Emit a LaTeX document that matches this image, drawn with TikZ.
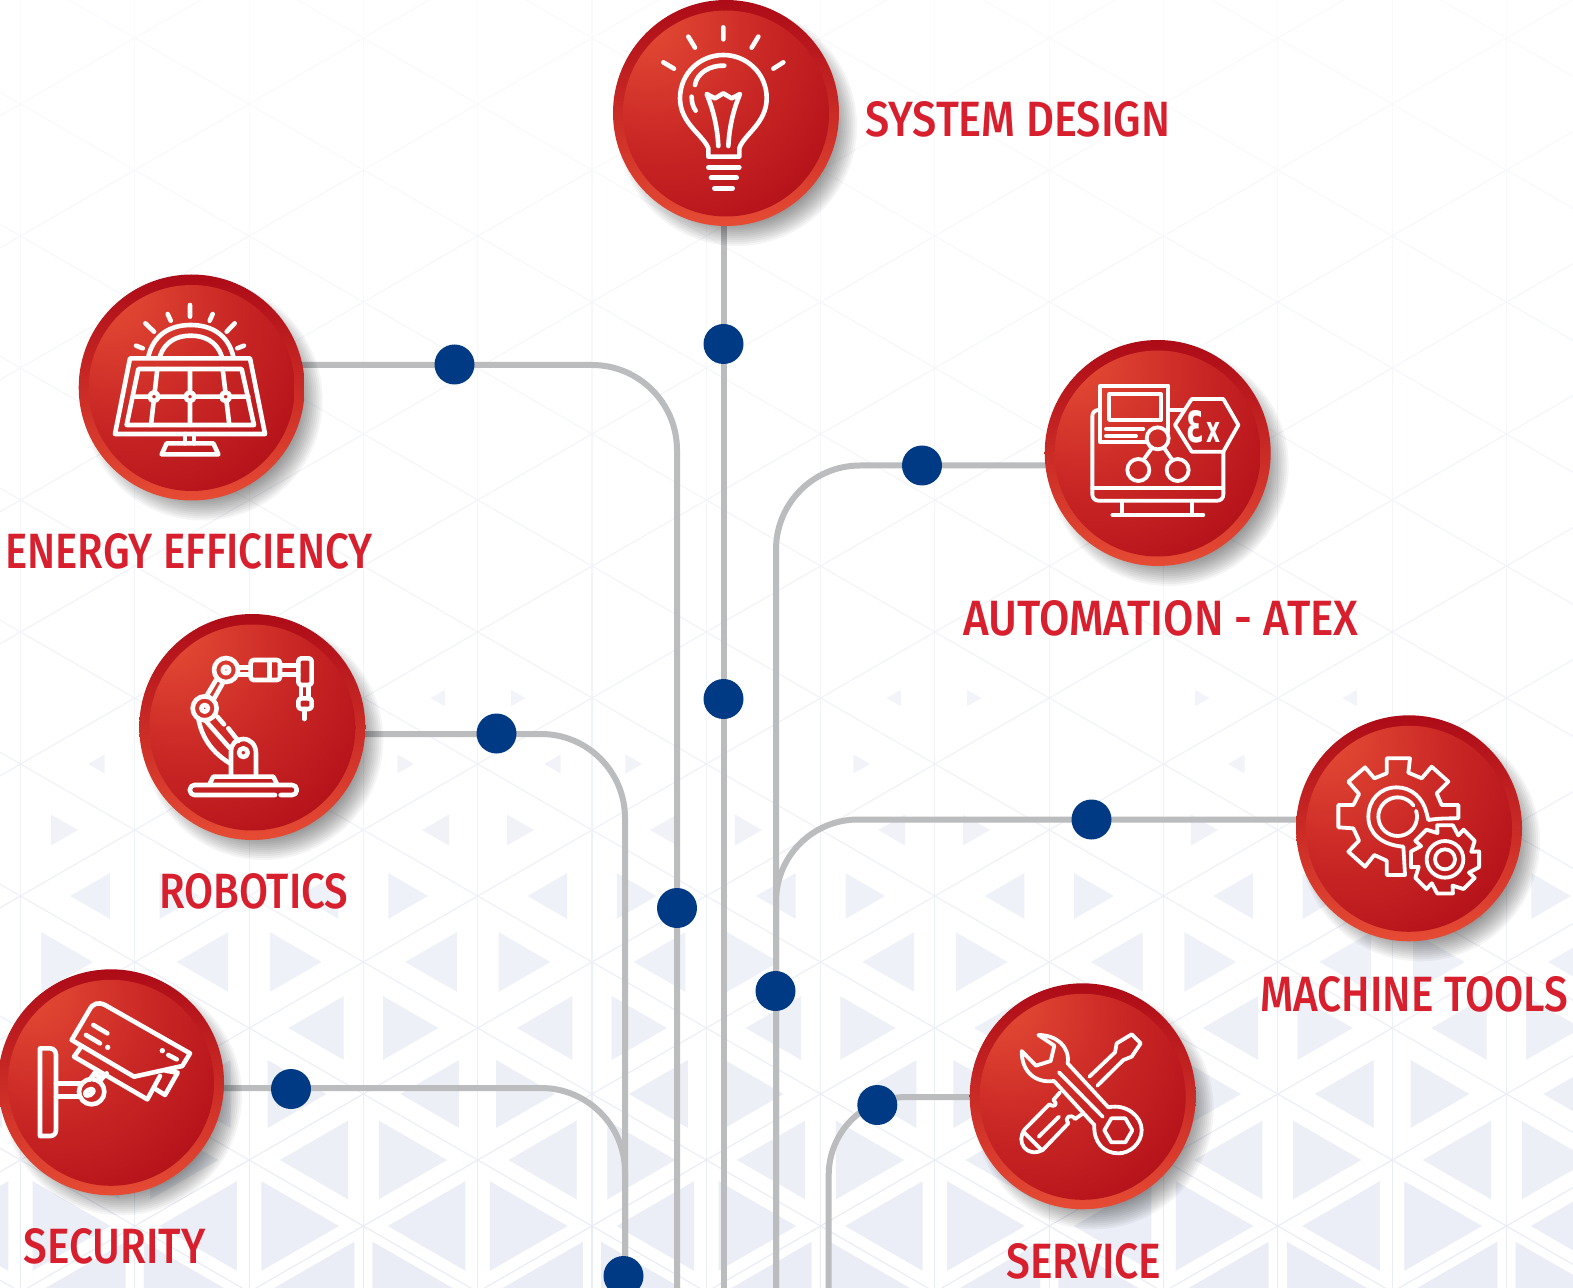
\documentclass[tikz,border=0pt]{standalone}
\usepackage{fontspec}
\setmainfont{Fira Sans}
\newfontfamily\labfont{Fira Sans Medium}
\newfontfamily\exfont{DejaVu Sans}
\definecolor{latcol}{HTML}{E9ECF5}
\definecolor{triacol}{HTML}{EAEDF5}
\definecolor{ringtop}{HTML}{AD0B17}
\definecolor{ringbot}{HTML}{E64B34}
\definecolor{faceA}{HTML}{E74F36}
\definecolor{faceB}{HTML}{CB2926}
\definecolor{faceC}{HTML}{AB0915}
\definecolor{linegray}{HTML}{BBBCBE}
\definecolor{dotblue}{HTML}{003A84}
\definecolor{labred}{HTML}{D71F2E}
\pgfdeclareradialshading{facesh}{\pgfpoint{-22bp}{25bp}}{color(0bp)=(faceA);color(25bp)=(faceB);color(54bp)=(faceC);color(110bp)=(faceC)}
\tikzset{
  conn/.style={draw=linegray,line width=3pt},
  dotnode/.style={circle,fill=dotblue,minimum size=20pt,inner sep=0pt},
  ringnode/.style={circle,minimum size=113pt,inner sep=0pt,top color=ringtop,bottom color=ringbot},
  facenode/.style={circle,minimum size=103pt,inner sep=0pt,shading=facesh},
  icon/.style={draw=white,line width=2.3pt,line cap=round,line join=round},
  thin icon/.style={draw=white,line width=1.9pt,line cap=round,line join=round},
  zoomed/.style={x=0.166667pt,y=-0.166667pt},
  labelnode/.style={inner sep=0pt,text=labred,font=\labfont}
}
\newcommand{\tritri}[3]{%
  \pgfmathsetmacro\ss{(#2)<710?0.125:((#2)<780?0.145:((#2)<958?0.12+0.00167*((#2)-760):((#2)<1095?0.45+0.00048*((#2)-958):0.515+0.00125*((#2)-1095))))}%
  \pgfmathsetmacro\cc{(#1)+(#3)*76.2}%
  \pgfmathsetmacro\pp{min(100,62+38*(((#2)-698)/600))}%
  \fill[triacol!\pp!white] ({\cc-(#3)*\ss*76.2},#2) -- ({\cc+(#3)*\ss*38.1},{(#2)-66*\ss}) -- ({\cc+(#3)*\ss*38.1},{(#2)+66*\ss}) -- cycle;%
}
\newcommand{\badgeshadow}[2]{%
  \foreach \r in {96,98,...,120}{\fill[black,opacity=0.04] ({#1+11},{#2+13}) circle[radius=\r];}%
}
\newcommand{\labfit}[6]{% name, left, top, width(px), height(px), text
  \node[labelnode,anchor=north west] (#1) at (#2,#3) {\resizebox{\dimexpr #4pt/2\relax}{\dimexpr #5pt/2\relax}{#6}};%
}
\begin{document}
\begin{tikzpicture}[x=0.5pt,y=-0.5pt]
\useasboundingbox (0,0) rectangle (1573,1288);
\begin{scope}
\clip (0,0) rectangle (1573,1288);
\fill[white] (0,0) rectangle (1573,1288);
% lattice lines
\foreach \k in {-6,...,9}{
  \pgfmathsetmacro\X{592+114.3*\k}
  \pgfmathsetmacro\XX{\X+114.3}
  \pgfmathsetmacro\Yo{mod(abs(\k),2)==0?1094:1028}
  \foreach \n in {-9,...,2}{
    \pgfmathsetmacro\Y{\Yo+132*\n}
    \pgfmathsetmacro\pc{max(22,min(100,22+78*(\Y/1250)))}
    \draw[latcol!\pc!white,line width=0.55pt] (\X,\Y) -- (\X,{\Y+132});
    \draw[latcol!\pc!white,line width=0.55pt] (\X,\Y) -- (\XX,{\Y+66});
    \draw[latcol!\pc!white,line width=0.55pt] (\X,\Y) -- (\XX,{\Y-66});
  }
}
% triangles: sparse rows
\foreach \X/\D in {364/1,592/-1,820/1,1048/-1,1276/-1,1276/1}{\tritri{\X}{698}{\D}}
\foreach \X/\D in {23/1,479/-1,479/1,707/-1,935/-1,1163/1}{\tritri{\X}{764}{\D}}
\foreach \X/\D in {136/-1,364/1,592/-1,592/1,820/-1,820/1,1048/-1,1276/-1,1276/1,1504/-1}{\tritri{\X}{830}{\D}}
% triangles: full rows
\foreach \k in {-6,...,9}{
  \pgfmathsetmacro\X{592+114.3*\k}
  \pgfmathsetmacro\Yo{mod(abs(\k),2)==0?962:896}
  \foreach \n in {0,1,2,3}{
    \pgfmathsetmacro\Y{\Yo+132*\n}
    \tritri{\X}{\Y}{1}
    \tritri{\X}{\Y}{-1}
  }
}
% anchors for connectors
\coordinate (cTop) at (723.5,113);
\coordinate (cEnd) at (723.5,1300);
\coordinate (eStart) at (191.7,365);
\coordinate (eEnd) at (677,1300);
\coordinate (rStart) at (252.3,734);
\coordinate (rEnd) at (625,1300);
\coordinate (sStart) at (111,1088);
\coordinate (aStart) at (1157.7,465.5);
\coordinate (aEnd) at (776,1300);
\coordinate (gStart) at (1409,819.5);
\coordinate (vStart) at (1082.7,1097);
\coordinate (vEnd) at (828.7,1300);
\draw[conn] (cTop) -- (cEnd);
\draw[conn,rounded corners=42.5pt] (eStart) -| (eEnd);
\draw[conn,rounded corners=42pt] (rStart) -| (rEnd);
\draw[conn,rounded corners=42pt] (sStart) -| (rEnd);
\draw[conn,rounded corners=42pt] (aStart) -| (aEnd);
\draw[conn,rounded corners=41pt] (gStart) -| (aEnd);
\draw[conn,rounded corners=39pt] (vStart) -| (vEnd);
% shadows
\badgeshadow{726}{113}
\badgeshadow{191.7}{387.5}
\badgeshadow{1157.7}{453}
\badgeshadow{252.3}{727}
\badgeshadow{1409}{828.3}
\badgeshadow{111}{1082.3}
\badgeshadow{1082.7}{1096.3}
% badges
\foreach \nm/\px/\py in {bulb/726/113,energy/191.7/387.5,atex/1157.7/453,robot/252.3/727,gears/1409/828.3,security/111/1082.3,service/1082.7/1096.3}{
  \node[ringnode] (\nm) at (\px,\py) {};
  \node[facenode] (\nm face) at (\px,{\py+0.5}) {};
}
% ---- bulb
\begin{scope}[shift={(600,0)},zoomed]
\draw[icon] (370,82)--(370,118) (265,110)--(285,143) (475,110)--(455,143) (190,187)--(222,206) (550,187)--(520,206);
\draw[icon] (325,470)--(325,445) .. controls (310,405) and (240,370) .. (240,295) .. controls (240,220) and (300,165) .. (370,165) .. controls (440,165) and (500,220) .. (500,295) .. controls (500,370) and (430,405) .. (418,445) -- (418,470) -- cycle;
\draw[icon] (285,255) .. controls (290,220) and (330,195) .. (373,197);
\draw[icon] (275,290) .. controls (275,305) and (278,320) .. (287,332);
\draw[icon] (355,438) .. controls (352,380) and (340,330) .. (320,282) -- (345,295) -- (370,280) -- (395,295) -- (420,282) .. controls (400,330) and (388,380) .. (385,438);
\draw[icon] (325,502)--(418,502) (333,533)--(410,533) (343,565)--(398,565);
\end{scope}
% ---- solar panel
\begin{scope}[shift={(70,270)},zoomed]
\draw[icon] (360,105)--(360,140) (293,132)--(302,152) (428,132)--(419,152) (226,160)--(252,185) (494,160)--(470,185) (198,227)--(218,235) (522,227)--(502,235);
\draw[icon] (235,260) .. controls (250,195) and (300,165) .. (362,165) .. controls (425,165) and (475,195) .. (490,260);
\draw[icon] (270,258) .. controls (285,215) and (320,197) .. (362,197) .. controls (405,197) and (440,215) .. (455,258);
\draw[icon] (180,265)--(540,265)--(585,492)--(135,492)--cycle;
\draw[icon] (205,297)--(515,297)--(552,465)--(170,465)--cycle;
\draw[icon] (190,380)--(535,380) (262,297)--(243,465) (360,297)--(360,465) (458,297)--(478,465);
\foreach \cx in {252,360,467}{\filldraw[icon,fill=faceB] (\cx,380) circle[radius=13];}
\draw[icon] (345,492)--(345,520) (372,492)--(372,520);
\draw[icon] (290,520)--(430,520)--(445,553)--(275,553)--cycle;
\end{scope}
% ---- atex
\begin{scope}[shift={(1035,335)},zoomed]
\draw[thin icon,rounded corners=3pt] (193,225) -- (172,225) -- (172,497) -- (565,497) -- (565,350);
\draw[thin icon] (172,460)--(565,460) (405,225)--(445,225);
\draw[thin icon] (262,497)--(262,540) (472,497)--(472,540) (232,540)--(505,540);
\draw[thin icon] (400,290)--(400,152)--(195,152)--(195,322)--(335,322);
\draw[thin icon] (222,178) rectangle (378,255);
\draw[thin icon] (213,282)--(325,282) (213,303)--(303,303);
\draw[thin icon] (368,310) circle[radius=33] (310,405) circle[radius=33] (428,405) circle[radius=33];
\draw[thin icon] (350,340)--(325,375) (388,340)--(412,375);
\draw[thin icon] (420,270)--(470,192)--(565,192)--(610,270)--(565,350)--(470,350)--cycle;
\node[inner sep=0pt,text=white,anchor=north west] (exmark) at (453,225) {\resizebox{17pt}{16pt}{\exfont\bfseries Ɛ\hspace{.08em}\scalebox{.85}{x}}};
\end{scope}
% ---- robot
\begin{scope}[shift={(130,605)},zoomed]
\draw[icon,rounded corners=2.2pt] (435,570)--(180,570)--(180,540)--(500,540)--(500,570)--(452,570);
\draw[icon] (240,535)--(250,515)--(430,515)--(440,535);
\draw[icon] (303,515)--(303,440) .. controls (303,415) and (320,402) .. (340,402) .. controls (362,402) and (378,420) .. (378,445) -- (378,515);
\draw[icon] (340,443) circle[radius=13];
\draw[icon] (205,340) .. controls (215,400) and (250,445) .. (300,475);
\draw[icon] (225,345)--(300,430) (262,335)--(282,358) (295,370)--(325,408);
\draw[icon] (224,310) circle[radius=36] (224,310) circle[radius=10];
\draw[icon] (288,195) circle[radius=36] (288,195) circle[radius=10];
\draw[icon] (228,275)--(258,225) (250,285)--(278,235);
\draw[icon] (325,188)--(362,188) (325,208)--(362,208);
\draw[icon,rounded corners=1.5pt] (362,165) rectangle (450,225);
\draw[icon] (418,170)--(418,222);
\draw[icon] (450,182)--(505,182) (450,208)--(505,208);
\draw[icon,rounded corners=1.5pt] (505,160) rectangle (545,240);
\draw[icon] (513,240)--(513,280) (535,240)--(535,280);
\draw[icon,rounded corners=1.5pt] (505,280) rectangle (545,312);
\draw[icon] (523,312)--(523,342);
\end{scope}
% ---- gears
\begin{scope}[shift={(1285,710)},zoomed]
\draw[thin icon] (430,330) .. controls (460,325) and (490,325) .. (520,325) -- (520,285) -- (470,285) -- (455,250) -- (490,215) -- (440,170) -- (410,205) -- (370,188) -- (375,145) -- (305,145) -- (305,190) -- (268,205) -- (240,172) -- (190,215) -- (222,252) -- (205,285) -- (160,285) -- (160,352) -- (205,355) -- (222,392) -- (190,425) -- (240,470) -- (268,435) -- (305,452) -- (305,495) -- (360,495) -- (355,410) .. controls (290,405) and (250,370) .. (250,320) .. controls (250,270) and (285,232) .. (335,232) .. controls (380,232) and (415,265) .. (425,310) -- cycle;
\draw[thin icon] (385.5,286.7) arc[start angle=-35,end angle=-378,radius=58];
\begin{scope}[shift={(480,448)}]
\draw[thin icon] (-13:105) \foreach \a in {0,45,...,315}{ -- ({\a-13}:105) -- ({\a+13}:105) -- ({\a+29}:82)} -- cycle;
\draw[thin icon] (0,0) circle[radius=55] (0,0) circle[radius=30];
\end{scope}
\end{scope}
% ---- security
\begin{scope}[shift={(0,960)},zoomed]
\draw[icon] (120,265)--(150,265) .. controls (162,265) and (168,275) .. (168,285) -- (168,510) .. controls (168,520) and (162,528) .. (150,528) -- (120,528) -- cycle;
\draw[icon] (168,370)--(240,370) (168,410)--(240,410);
\draw[icon] (275,395) circle[radius=38];
\draw[icon,rotate around={30:(268,397)}] (268,397) ellipse[x radius=14,y radius=8];
\draw[icon] (270,358)--(290,330) (300,362)--(320,340) (290,345)--(305,355);
\draw[icon] (215,240)--(268,150) .. controls (278,130) and (295,125) .. (315,135) -- (570,280) -- (547,318) -- (402,350) -- cycle;
\draw[icon] (240,265)--(222,290)--(442,418)--(480,348);
\draw[icon] (497,332)--(533,338)--(495,405)--(468,388);
\draw[icon] (280,195)--(322,220) (258,225)--(300,250) (505,285)--(530,298);
\fill[white] (323,262) circle[radius=8] (487,272) circle[radius=8];
\end{scope}
% ---- service
\begin{scope}[shift={(960,975)},zoomed]
\draw[thin icon] (185,228)--(228,272)--(272,258)--(283,212)--(235,180) .. controls (290,180) and (330,215) .. (323,265) -- (445,397) .. controls (500,385) and (545,425) .. (545,465) .. controls (545,505) and (510,535) .. (475,535) .. controls (430,535) and (400,500) .. (403,450) -- (282,318) .. controls (225,325) and (185,290) .. (185,228) -- cycle;
\draw[thin icon] (517,466)--(496,502)--(454,502)--(433,466)--(454,430)--(496,430)--cycle;
\draw[thin icon] (297,292)--(428,425);
\draw[thin icon] (388,305)--(465,232)--(470,205)--(515,178)--(542,205)--(515,245)--(490,255)--(412,332);
\draw[thin icon] (300,352) -- (280,375) .. controls (295,385) and (285,400) .. (268,388) -- (195,462) .. controls (165,500) and (200,550) .. (248,525) -- (325,445) .. controls (310,425) and (335,415) .. (345,432) -- (365,418);
\draw[thin icon] (236,485)--(297,425) (192,472)--(245,525);
\end{scope}
% dots
\foreach \nm/\px/\py in {d1/723.5/344,d2/723.5/699,d3/454.5/364.5,d4/677/908,d5/496.5/733.5,d6/291/1089,d7/623.5/1276,d8/922/465.5,d9/1091.5/819.5,d10/775.5/991,d11/877.3/1105}{
  \node[dotnode] (\nm) at (\px,\py) {};
}
\end{scope}
% labels
\labfit{lab1}{865}{101}{305}{35}{SYSTEM DESIGN}
\labfit{lab2}{5}{533}{367}{35}{ENERGY EFFICIENCY}
\labfit{lab3}{963}{600}{395}{35}{AUTOMATION - ATEX}
\labfit{lab4}{159}{873}{189}{35}{ROBOTICS}
\labfit{lab5}{1260}{976}{308}{35}{MACHINE TOOLS}
\labfit{lab6}{23}{1228}{182}{35}{SECURITY}
\labfit{lab7}{1006}{1243}{155}{35}{SERVICE}
\end{tikzpicture}
\end{document}
